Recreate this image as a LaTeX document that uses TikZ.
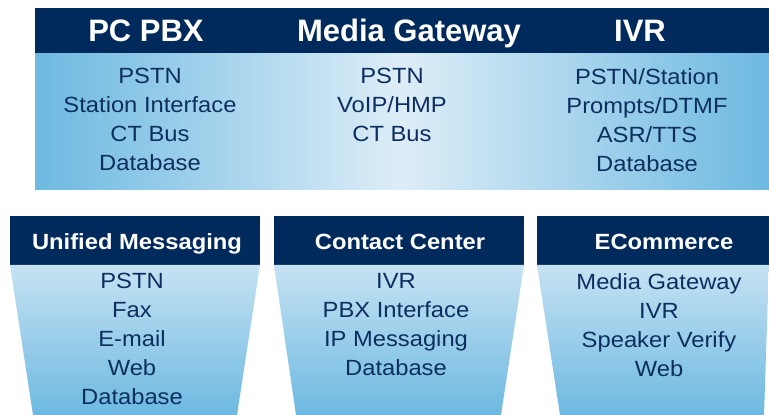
\documentclass[tikz,border=0pt]{standalone}
\usepackage{fontspec}
\setmainfont{Liberation Sans}
\newfontfamily\widesans[FakeStretch=1.08]{Liberation Sans}
\usepackage{xcolor}
\usepackage{tikz}
\usetikzlibrary{positioning}

\definecolor{navy}{HTML}{002A5C}
\definecolor{inktext}{HTML}{0D2F5F}
\definecolor{skyedge}{HTML}{6DB9E1}
\definecolor{skylight}{HTML}{DDEDF7}
\definecolor{skytop}{HTML}{C6E2F3}

\begin{document}
\begin{tikzpicture}[
            x=1pt, y=1pt,
            band/.style={
                fill=navy
            },
            bigtitle/.style={
                text=white,
                inner sep=0pt,
                anchor=base,
                font=\fontsize{31}{36}\selectfont\bfseries
            },
            smalltitle/.style={
                text=white,
                inner sep=0pt,
                anchor=base,
                font=\widesans\fontsize{22}{28}\selectfont\bfseries
            },
            itemlist/.style={
                text=inktext,
                inner sep=0pt,
                anchor=north,
                align=center,
                font=\widesans\fontsize{22}{29}\selectfont
            }
        ]
            \useasboundingbox (0,0) rectangle (769,415);

            % --- CAJA SUPERIOR ---
            \fill [band] (35,361) rectangle (769,407);
            \shade [left color=skyedge, right color=skyedge, middle color=skylight] (35,225) rectangle (769,361);

            \node [bigtitle] (pcpbx) at (146,373) {PC PBX};
            \node [bigtitle] (gateway) at (409,373) {Media Gateway};
            \node [bigtitle] (ivr) at (640,373) {IVR};

            \node [itemlist] (pcpbxlist) at (150,347) {PSTN\\Station Interface\\CT Bus\\Database};
            \node [itemlist] (gatewaylist) at (392,347) {PSTN\\VoIP/HMP\\CT Bus};
            \node [itemlist] (ivrlist) at (647,347) {PSTN/Station\\Prompts/DTMF\\ASR/TTS\\Database};

            % --- CAJAS INFERIORES ---
            \fill [band] (10,150) rectangle (260,199);
            \shade [top color=skytop, bottom color=skyedge] (10,150) -- (260,150) -- (237,0) -- (33,0) -- cycle;

            \fill [band] (274,150) rectangle (524,199);
            \shade [top color=skytop, bottom color=skyedge] (274,150) -- (524,150) -- (501,0) -- (296,0) -- cycle;

            \fill [band] (537,150) rectangle (769,199);
            \shade [top color=skytop, bottom color=skyedge] (537,150) -- (769,150) -- (764,0) -- (560,0) -- cycle;

            \node [smalltitle] (unified) at (137,165) {Unified Messaging};
            \node [smalltitle] (contact) at (400,165) {Contact Center};
            \node [smalltitle] (ecommerce) at (664,165) {ECommerce};

            \node [itemlist] (unifiedlist) at (132,142) {PSTN\\Fax\\E-mail\\Web\\Database};
            \node [itemlist] (contactlist) at (396,142) {IVR\\PBX Interface\\IP Messaging\\Database};
            \node [itemlist] (ecommercelist) at (659,142) {Media Gateway\\IVR\\Speaker Verify\\Web};
        \end{tikzpicture}
\end{document}
